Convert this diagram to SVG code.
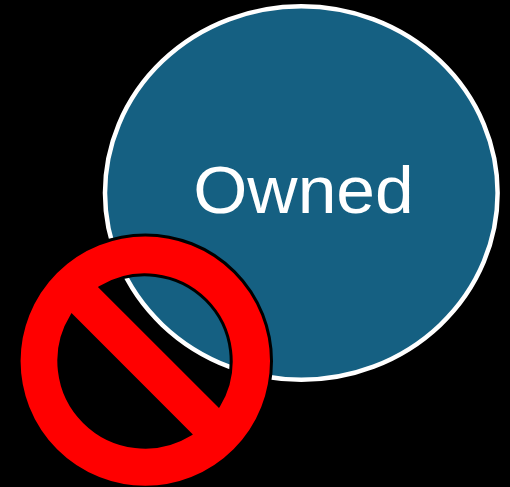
<svg xmlns="http://www.w3.org/2000/svg" width="510" height="487" viewBox="0 0 510 487">
<style>
.lbl{font-family:"Liberation Sans",Arial,sans-serif;font-size:66px;fill:#fff}
</style>
<rect width="510" height="487" fill="#000"/>
<g id="owned">
<ellipse cx="301.300" cy="193" rx="196.300" ry="186.700" fill="#156082" stroke="#fff" stroke-width="4.500"/>
<text class="lbl" transform="translate(303.500 212.500) scale(1.055 1)" text-anchor="middle">Owned</text>
</g>
<g id="no-symbol">
<path fill="#f00" fill-rule="evenodd" stroke="#000" stroke-width="3" d="M19.100 361.100a126.200 126.200 0 1 0 252.400 0a126.200 126.200 0 1 0-252.400 0zM100.300 287.300A86.200 86.200 0 0 1 218.700 405.700zM71.800 315.500A86.200 86.200 0 0 0 190.500 434.200z"/>
</g>
</svg>
